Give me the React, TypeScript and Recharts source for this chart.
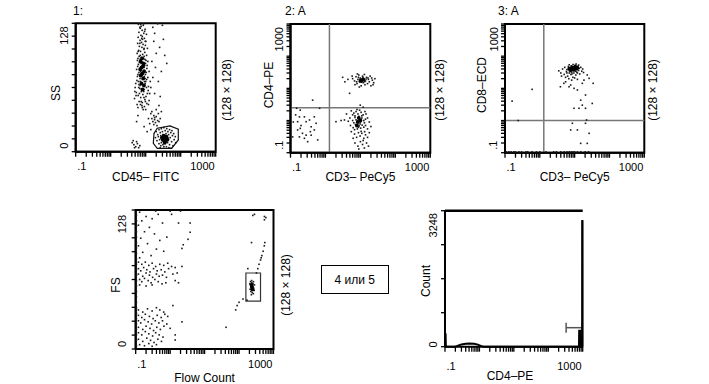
import React from 'react';
import { ScatterChart, Scatter, XAxis, YAxis, ReferenceLine, ReferenceArea } from 'recharts';

type Pt = [number, number];
const toObj = (a: Pt[]) => a.map(([x, y]) => ({ x, y }));

// ---------- ticks ----------
const logTicks = [0.1, 0.2, 0.3, 0.4, 0.5, 0.6, 0.7, 0.8, 0.9, 1, 2, 3, 4, 5, 6, 7, 8, 9, 10, 20, 30, 40, 50, 60, 70, 80, 90, 100, 200, 300, 400, 500, 600, 700, 800, 900, 1000];
const chTicks = [0, 12.8, 25.6, 38.4, 51.2, 64, 76.8, 89.6, 102.4, 115.2, 128];
const countTicks = [0, 812, 1624, 2436, 3248];
const logTickLabels = ['.1', '1000'];
const chTickLabels = ['0', '128'];
const countTickLabels = ['0', '3248'];

// ---------- panel 1: CD45 FITC vs SS ----------
const p1Upper: Pt[] = [
  [7.2, 127], [8.5, 126], [6.8, 124], [9.6, 122], [7.9, 121], [6.4, 119], [8.8, 118], [10.5, 117], [7.3, 116], [6.1, 114], [9.2, 113], [8.1, 112], [6.9, 111], [10.1, 110], [7.6, 109], [5.9, 108], [8.4, 107], [9.8, 106], [6.6, 105], [7.8, 104], [11.2, 103], [8.9, 102], [6.3, 101], [7.1, 100], [9.4, 99], [5.7, 98], [8.2, 97], [10.6, 96],
  [6.5, 95], [7.5, 94], [8.6, 93], [9.5, 92], [5.8, 91], [7.0, 90], [8.0, 89], [9.9, 88], [6.2, 87], [11.0, 86], [7.7, 85], [8.9, 84], [6.7, 83], [5.5, 82], [9.3, 81], [7.2, 80], [10.4, 79], [8.3, 78], [6.0, 77], [7.9, 76], [9.1, 75], [11.5, 74], [6.9, 73], [8.1, 72], [5.6, 71], [10.0, 70], [7.4, 69], [9.7, 68], [6.4, 67], [8.7, 66], [12.0, 65],
  [5.0, 64], [6.8, 63], [9.0, 62], [11.8, 61], [7.5, 60], [5.4, 59], [13.0, 58], [8.3, 57], [6.1, 56], [10.2, 55], [7.2, 54], [4.8, 53], [9.5, 52], [12.5, 51], [6.5, 50], [8.0, 49], [10.8, 48], [5.7, 47], [7.8, 46], [9.2, 45],
  [6.9, 92], [9.0, 86], [7.3, 78], [9.6, 73], [6.2, 70], [8.8, 60], [6.6, 58], [7.0, 123], [8.0, 115], [6.8, 108], [9.0, 103],
  [6.0, 93], [7.0, 96], [9.0, 95], [10.2, 91], [6.6, 89], [7.4, 88], [9.4, 86], [10.8, 83], [5.9, 85], [7.1, 82], [8.6, 81], [9.8, 77], [6.4, 79], [7.5, 75], [10.6, 72], [5.8, 75], [7.0, 70], [9.2, 70], [6.3, 64], [7.7, 62], [10.5, 64], [11.2, 58], [6.9, 66], [8.9, 54], [5.3, 56], [7.4, 50], [9.8, 50], [6.0, 44], [8.5, 42], [7.1, 47], [11.5, 90], [12.5, 80], [5.2, 68], [4.9, 60], [13.5, 70], [6.1, 100], [9.7, 110], [7.4, 125], [8.7, 127.5], [6.2, 127], [9.3, 120], [7.7, 113],
];
const p1UpperCore: Pt[] = [[7.2, 90], [8.6, 88], [7.6, 84], [9.0, 80], [7.2, 76], [8.5, 73], [7.6, 68], [8.9, 66], [7.9, 93], [8.0, 78], [7.0, 82], [8.3, 85], [8.1, 62]];
const p1Right: Pt[] = [[16, 124], [22, 127.5], [18, 118], [30, 126], [17, 110], [25, 104], [20, 98], [35, 96], [15, 90], [19, 84], [28, 80], [16, 74], [23, 70], [14, 64], [18, 58], [26, 55], [32, 112], [40, 88]];
const p1Mid: Pt[] = [[14, 38], [17, 36], [20, 35], [15, 33], [18, 32], [22, 31], [16, 30], [19, 29], [24, 30], [13, 28], [17, 27], [21, 26], [18, 34], [15, 40], [20, 42], [23, 38], [12, 33], [26, 33], [10, 42], [12, 47], [6, 36], [5.5, 30], [9, 25], [11, 20], [14, 22], [8, 44], [24, 46], [28, 40]];
const p1Lower: Pt[] = [
  [20, 20], [24, 22], [28, 23], [33, 24], [40, 23], [48, 22], [56, 21], [22, 17], [26, 19], [30, 20], [36, 21], [43, 20], [52, 19], [63, 18], [19, 14], [23, 15], [27, 16], [31, 17], [38, 18], [45, 17], [58, 16], [70, 15], [21, 11], [25, 12], [29, 13], [34, 14], [41, 15], [50, 14], [65, 12], [24, 8], [28, 9], [32, 10], [37, 11], [44, 12], [55, 10], [72, 9], [27, 6], [31, 7], [36, 8], [42, 9], [48, 7], [60, 6], [33, 5], [39, 5], [46, 4], [53, 3.5], [26, 4], [35, 12], [38, 13], [32, 15], [30, 11], [40, 10], [36, 16], [34, 9], [43, 14],
];
const p1LowerCore: Pt[] = [[34, 13], [37, 11], [31, 12], [39, 15], [35, 9], [42, 12], [29, 14], [33, 16]];
const p1BottomLeft: Pt[] = [[4.1, 9], [4.6, 7], [5.2, 5], [5.8, 8], [6.3, 4], [4.8, 4], [6.8, 6], [5.5, 10], [4.4, 11]];
const p1Gate: Pt[] = [[17.3, 18.4], [21.4, 23.4], [49.4, 25.7], [85.4, 22.4], [85.4, 11.7], [55.3, 3.4], [21.4, 3.4], [16.5, 8.4], [17.3, 18.4]];

// ---------- panel 2: CD3 PeCy5 vs CD4 PE ----------
const p2Quad = { x: 1.3, y: 2.5 };
const p2LowerLeft: Pt[] = [[0.14, 1.5], [0.18, 1.3], [0.16, 0.92], [0.19, 0.57], [0.28, 0.92], [0.35, 1.04], [0.39, 0.64], [0.22, 0.4], [0.25, 0.28], [0.39, 0.35], [0.48, 0.51], [0.54, 0.82], [0.6, 0.25], [0.31, 0.22], [0.16, 0.51], [0.15, 2.4], [0.19, 2.1], [0.43, 4.3], [0.68, 2.4], [0.115, 0.31], [0.48, 1.3], [0.25, 1.3], [0.28, 0.35], [0.18, 0.31], [0.37, 0.45], [0.12, 0.9], [0.2, 0.7]];
const p2Upper: Pt[] = [[6, 20], [6.8, 17], [7.5, 23], [8, 14], [8.5, 19], [9, 26], [9.5, 16], [10, 21], [10.5, 12], [11, 18], [11.5, 24], [12, 15], [12.5, 20], [13, 27], [13.5, 13], [14, 17], [15, 22], [16, 14], [17, 19], [18, 16], [19, 24], [20, 12], [22, 18], [24, 15], [26, 20], [7, 13], [8.2, 28], [9.3, 11], [10.8, 15.5], [11.8, 22], [12.8, 17.5], [10.2, 18.5], [11, 17], [9.8, 19.5], [14.5, 19.5], [13.2, 16], [16.5, 21], [21, 21], [23, 13], [5.8, 24], [7.8, 16], [8.8, 22]];
const p2UpperCore: Pt[] = [[11, 18], [10, 17], [12, 19]];
const p2UpperOut: Pt[] = [[4.9, 7], [3.1, 22], [4.4, 19], [3.6, 16]];
const p2Lower: Pt[] = [
  [5.5, 2.0], [6.5, 1.7], [7.5, 1.9], [8.5, 1.6], [9.5, 2.1], [10.5, 1.8], [12, 1.5], [13.5, 1.9], [7, 1.4], [9, 1.35], [11, 1.4], [6, 1.5], [8, 2.2], [14.5, 1.6],
  [5, 1.2], [6, 1.0], [7, 1.25], [8, 0.95], [9, 1.15], [10, 0.9], [11, 1.2], [12.5, 1.0], [14, 1.1], [16, 1.2], [4.5, 0.95], [6.5, 0.85], [7.5, 1.05], [8.5, 1.2], [9.5, 1.0], [10.5, 1.1], [13, 0.85], [18, 0.9], [7.8, 0.88],
  [5.2, 0.7], [6.2, 0.6], [7.2, 0.75], [8.2, 0.55], [9.2, 0.68], [10.2, 0.58], [11.2, 0.72], [12.5, 0.62], [14, 0.7], [16, 0.55], [20, 0.65], [6.8, 0.52], [9.8, 0.78], [8.8, 0.62], [7.6, 0.66],
  [5.5, 0.45], [6.8, 0.38], [7.8, 0.3], [8.8, 0.42], [9.8, 0.33], [11, 0.4], [12.5, 0.28], [14, 0.36], [16, 0.3], [18, 0.42], [6.2, 0.28], [10.5, 0.46], [13.2, 0.45],
  [7, 0.2], [8.5, 0.16], [10, 0.22], [11.5, 0.18], [13, 0.14], [15, 0.2], [9, 0.13], [17, 0.16], [12, 0.24],
];
const p2LowerCore: Pt[] = [[8.5, 0.9], [9, 1.2], [8, 0.7], [10, 1.0]];
const p2LowerOut: Pt[] = [[2.0, 0.92], [2.8, 1.0], [3.5, 1.04], [4, 1.6], [9.9, 3.0], [12, 2.6]];

// ---------- panel 3: CD3 PeCy5 vs CD8 ECD ----------
const p3Quad = { x: 1.3, y: 1.0 };
const p3Main: Pt[] = [[3.5, 35], [4, 30], [4.5, 40], [5, 27], [5.2, 45], [5.8, 33], [6, 38], [6.3, 24], [6.6, 48], [7, 30], [7.2, 35], [7.5, 44], [7.8, 27], [8, 50], [8.3, 32], [8.6, 37], [8.9, 22], [9.2, 47], [9.5, 30], [9.8, 40], [10.2, 52], [10.5, 34], [10.8, 26], [11.2, 45], [11.6, 38], [12, 30], [12.5, 49], [13, 36], [13.5, 42], [14, 28], [15, 45], [16, 34], [17, 40], [18, 31], [6.8, 20], [8.2, 18], [10, 21], [12, 19], [5.5, 22], [4.2, 24], [9, 55], [11, 57], [7, 54], [13, 53], [6, 30], [7.8, 33], [9.3, 35], [10.6, 39], [8.4, 28], [11.5, 32]];
const p3Core: Pt[] = [[8, 40], [9, 42], [10, 44], [7.5, 37], [9.5, 38], [8.5, 45], [11, 41], [7, 41], [10.5, 47], [12, 43]];
const p3Scatter: Pt[] = [[3.9, 11.2], [6.9, 11.2], [9.6, 10], [16.6, 14.3], [23, 26], [34, 14.3], [12, 8.9], [5.5, 16], [14.9, 4.3], [32, 3.4], [16.6, 3.0], [9.6, 2.4], [13.3, 2.4], [20.5, 2.4], [20.5, 6.2], [7.7, 12.7], [4.9, 14.3], [18.5, 18], [26, 20.5]];
const p3Below: Pt[] = [[8.6, 0.82], [7.7, 0.51], [12, 0.51], [20.5, 0.82], [26, 0.4], [14.9, 0.195], [23, 0.195], [22, 1.04]];
const p3Left: Pt[] = [[0.6, 9.3], [0.16, 4.0], [0.24, 1.0]];
const p3Bottom: Pt[] = [[0.11, 0.106], [0.13, 0.106], [0.15, 0.106], [0.18, 0.106], [0.2, 0.106], [0.25, 0.106], [0.3, 0.106], [0.4, 0.106], [0.45, 0.106], [0.6, 0.106], [0.8, 0.106], [1.0, 0.106], [1.5, 0.106], [2.5, 0.106], [3, 0.106], [4, 0.106], [5, 0.106], [6, 0.106], [7, 0.106], [8, 0.106], [9, 0.106], [10, 0.106], [12, 0.106], [15, 0.106], [20, 0.106], [25, 0.106]];

// ---------- panel 4: Flow Count vs FS ----------
const p4Edge: Pt[] = [[0.105, 3], [0.105, 8], [0.105, 13], [0.105, 18], [0.105, 23], [0.105, 28], [0.105, 33], [0.105, 38], [0.105, 43], [0.105, 48], [0.105, 53], [0.105, 58], [0.105, 63], [0.105, 68], [0.105, 73], [0.105, 78], [0.105, 83], [0.105, 88], [0.105, 93], [0.105, 98], [0.105, 103], [0.105, 108], [0.105, 113], [0.105, 118], [0.105, 123]];
const p4UpperBand: Pt[] = [
  [0.12, 80], [0.15, 78], [0.19, 80], [0.24, 77], [0.3, 79], [0.38, 76], [0.5, 78], [0.65, 77], [0.85, 79], [1.1, 76],
  [0.12, 74], [0.14, 72], [0.17, 75], [0.21, 73], [0.26, 71], [0.33, 74], [0.42, 72], [0.55, 73], [0.7, 71], [0.9, 74],
  [0.12, 69], [0.16, 67], [0.2, 70], [0.25, 68], [0.31, 66], [0.4, 69], [0.48, 67], [0.6, 68], [0.78, 66], [1.2, 69],
  [0.13, 64], [0.15, 62], [0.18, 65], [0.23, 63], [0.28, 61], [0.36, 64], [0.45, 62], [0.58, 60], [0.13, 59], [0.2, 58], [0.3, 59], [0.75, 61],
];
const p4LowerBand: Pt[] = [
  [0.12, 36], [0.16, 34], [0.22, 37], [0.3, 35], [0.4, 38], [0.5, 36], [0.65, 34],
  [0.12, 31], [0.15, 29], [0.19, 32], [0.25, 30], [0.32, 28], [0.42, 31], [0.55, 29], [0.7, 32], [0.85, 30],
  [0.12, 26], [0.14, 24], [0.18, 27], [0.23, 25], [0.29, 23], [0.37, 26], [0.47, 24], [0.6, 26], [0.8, 23],
  [0.12, 20], [0.16, 18], [0.2, 21], [0.26, 19], [0.33, 17], [0.41, 20], [0.52, 18], [0.66, 21], [1.0, 19],
  [0.12, 15], [0.15, 13], [0.19, 16], [0.24, 14], [0.31, 12], [0.38, 15], [0.48, 13], [0.62, 11],
  [0.12, 9], [0.16, 7], [0.21, 10], [0.27, 8], [0.34, 6], [0.44, 9], [0.56, 7],
  [0.13, 4], [0.18, 3], [0.24, 5], [0.3, 2.5], [0.4, 4],
];
const p4TopLeft: Pt[] = [[0.13, 126], [0.2, 122], [0.15, 118], [0.3, 120], [0.45, 124], [0.12, 114], [0.25, 112], [0.6, 116], [0.18, 108], [0.35, 106], [0.14, 102], [0.5, 100], [0.22, 97], [0.8, 103], [0.12, 95], [0.4, 92], [0.16, 89], [0.65, 90], [0.28, 86], [0.13, 84]];
const p4Misc: Pt[] = [[1.75, 116], [3.8, 116], [3.8, 107.5], [3.3, 101], [2.4, 96], [2.2, 92.6], [1.4, 63], [1.75, 61], [2.2, 25], [1.4, 13], [1.4, 8.3], [1, 127], [0.38, 127], [2, 127], [1.1, 124], [2.2, 76], [1.4, 75], [1.6, 70], [1.2, 40]];
const p4Gated: Pt[] = [[205, 60], [215, 62], [225, 58], [235, 61], [245, 57], [255, 60], [265, 56], [280, 59], [210, 55], [220, 53], [230, 56], [240, 52], [250, 54], [260, 51], [275, 54], [218, 59], [232, 63], [248, 58], [262, 62], [228, 50], [238, 55], [252, 57]];
const p4GatedCore: Pt[] = [[235, 57], [245, 55], [230, 59]];
const p4Trail: Pt[] = [[42, 20], [80, 36], [88, 40], [100, 43], [130, 46], [170, 45], [320, 70], [350, 74], [380, 78], [420, 82], [460, 86], [500, 90], [540, 95], [560, 98], [545, 119], [545, 122], [280, 124], [250, 123], [600, 121], [180, 74], [230, 98], [440, 84]];
const p4GateRect = { x1: 158, x2: 420, y1: 44, y2: 70 };

// ---------- panel 5: CD4 PE histogram ----------
const histo: Pt[] = [[0.1, 300], [0.104, 300], [0.106, 0], [0.2, 0], [0.25, 30], [0.3, 55], [0.4, 72], [0.5, 78], [0.7, 70], [0.9, 50], [1.1, 20], [1.3, 0], [780, 0], [790, 380], [840, 380], [850, 0], [965, 0], [970, 3000], [985, 3000], [990, 0]];
const histoPeak = { x1: 965, x2: 995, y: 3000 };
const histoGate = { x1: 330, x2: 966, y: 454, capLo: 334, capHi: 573 };

// ---------- layout ----------
const AX = 20;
const FONT = '"Liberation Sans", Arial, Helvetica, sans-serif';
type Box = { L: number; R: number; T: number; B: number };
type Reg = { x: number; y: number; w: number; h: number };
const B1: Box = { L: 75.7, R: 215.7, T: 23.3, B: 151.7 };
const B2: Box = { L: 290.5, R: 430.3, T: 24, B: 152.7 };
const B3: Box = { L: 505, R: 644.3, T: 24, B: 152.7 };
const B4: Box = { L: 135.7, R: 273.5, T: 210, B: 349 };
const B5: Box = { L: 445, R: 582.7, T: 210.7, B: 346.7 };
const R1: Reg = { x: 40, y: 0, w: 205, h: 192 };
const R2: Reg = { x: 255, y: 0, w: 205, h: 192 };
const R3: Reg = { x: 470, y: 0, w: 205, h: 192 };
const R4: Reg = { x: 95, y: 195, w: 210, h: 189 };
const R5: Reg = { x: 405, y: 195, w: 200, h: 189 };

const loc = (b: Box, r: Reg): Box => ({ L: b.L - r.x, R: b.R - r.x, T: b.T - r.y, B: b.B - r.y });
const marginOf = (b: Box, r: Reg) => {
  const l = loc(b, r);
  return { top: l.T, left: l.L - AX, right: r.w - l.R, bottom: r.h - l.B - AX };
};
const regStyle = (r: Reg): React.CSSProperties => ({ position: 'absolute', left: r.x, top: r.y, width: r.w, height: r.h });
const axisLineStyle = { stroke: '#000', strokeWidth: 2 };
const tickLineStyle = { stroke: '#000', strokeWidth: 1.3 };

const xTick = (pb: Box, r: Reg, labels: string[], ticks: number[], baseY: number) => (props: any) => {
  const b = loc(pb, r);
  const v = props.payload.value;
  const by = baseY - r.y;
  if (v === ticks[0]) return <text x={b.L + 1.5} y={by} fontSize={11} fontFamily={FONT} fill="#000" textAnchor="start">{labels[0]}</text>;
  if (v === ticks[ticks.length - 1]) return <text x={b.R - 1} y={by} fontSize={11} fontFamily={FONT} fill="#000" textAnchor="end">{labels[1]}</text>;
  return <g />;
};

const yTick = (pb: Box, r: Reg, labels: string[], ticks: number[], labXp: number, botYp: number, topYp: number) => (props: any) => {
  const v = props.payload.value;
  const labX = labXp - r.x;
  const botY = botYp - r.y;
  const topY = topYp - r.y;
  if (v === ticks[0]) return <text x={labX} y={botY} transform={`rotate(-90 ${labX} ${botY})`} fontSize={11} fontFamily={FONT} fill="#000" textAnchor="start">{labels[0]}</text>;
  if (v === ticks[ticks.length - 1]) return <text x={labX} y={topY} transform={`rotate(-90 ${labX} ${topY})`} fontSize={11} fontFamily={FONT} fill="#000" textAnchor="end">{labels[1]}</text>;
  return <g />;
};

const dotSmall = (p: any) => <rect x={p.cx - 0.8} y={p.cy - 0.8} width={1.6} height={1.6} fill="#1a1a1a" />;
const dotTiny = (p: any) => <rect x={p.cx - 0.3} y={p.cy - 0.3} width={0.6} height={0.6} fill="#000" />;
const dotCore = (p: any) => <circle cx={p.cx} cy={p.cy} r={1.9} fill="#000" />;

const S = (data: Pt[], shape: any, key: string) => (
  <Scatter key={key} data={toObj(data)} shape={shape} isAnimationActive={false} />
);

type TextSpec = { t: string; x: number; y: number; rot?: boolean; anchor?: 'start' | 'middle' | 'end' };
const Texts = ({ r, items }: { r: Reg; items: TextSpec[] }) => (
  <g fontFamily={FONT} fontSize={12} fill="#000">
    {items.map((it, i) => {
      const x = it.x - r.x;
      const y = it.y - r.y;
      return (
        <text key={i} x={x} y={y} textAnchor={it.anchor || 'middle'} transform={it.rot ? `rotate(-90 ${x} ${y})` : undefined}>{it.t}</text>
      );
    })}
  </g>
);

const logXAxis = (b: Box, r: Reg, baseY: number) => (
  <XAxis dataKey="x" type="number" scale="log" domain={[0.1, 1000]} ticks={logTicks} interval={0} height={AX} axisLine={axisLineStyle} tickLine={tickLineStyle} tickSize={5} tick={xTick(b, r, logTickLabels, logTicks, baseY)} />
);

export default function App() {
  return (
    <div style={{ position: 'absolute', left: 0, top: 0, width: 709, height: 384, background: '#fff', fontFamily: FONT }}>
      {/* Panel 1 */}
      <div style={regStyle(R1)}>
        <ScatterChart width={R1.w} height={R1.h} margin={marginOf(B1, R1)}>
          {logXAxis(B1, R1, 170)}
          <YAxis dataKey="y" type="number" domain={[0, 128]} ticks={chTicks} interval={0} width={AX} axisLine={axisLineStyle} tickLine={tickLineStyle} tickSize={4} tick={yTick(B1, R1, chTickLabels, chTicks, 68, 148.7, 26.3)} />
          <ReferenceArea x1={0.1} x2={1000} y1={0} y2={128} fill="none" stroke="#000" strokeWidth={2} />
          {S(p1Upper, dotSmall, 'a')}
          {S(p1UpperCore, dotCore, 'b')}
          {S(p1Right, dotSmall, 'c')}
          {S(p1Mid, dotSmall, 'd')}
          {S(p1Lower, dotSmall, 'e')}
          {S(p1LowerCore, dotCore, 'f')}
          {S(p1BottomLeft, dotSmall, 'g')}
          <Scatter data={toObj(p1Gate)} shape={dotTiny} line={{ stroke: '#111', strokeWidth: 1.2 }} lineType="joint" isAnimationActive={false} />
          <Texts r={R1} items={[
            { t: '1:', x: 73, y: 15, anchor: 'start' },
            { t: 'SS', x: 59.5, y: 93, rot: true },
            { t: 'CD45– FITC', x: 145.7, y: 180.5 },
            { t: '(128 × 128)', x: 230.5, y: 90, rot: true },
          ]} />
        </ScatterChart>
      </div>

      {/* Panel 2 */}
      <div style={regStyle(R2)}>
        <ScatterChart width={R2.w} height={R2.h} margin={marginOf(B2, R2)}>
          {logXAxis(B2, R2, 170.5)}
          <YAxis dataKey="y" type="number" scale="log" domain={[0.1, 1000]} ticks={logTicks} interval={0} width={AX} axisLine={axisLineStyle} tickLine={tickLineStyle} tickSize={4} tick={yTick(B2, R2, logTickLabels, logTicks, 283, 149.7, 27)} />
          <ReferenceArea x1={0.1} x2={1000} y1={0.1} y2={1000} fill="none" stroke="#000" strokeWidth={2} />
          <ReferenceLine x={p2Quad.x} stroke="#777" strokeWidth={1.5} />
          <ReferenceLine y={p2Quad.y} stroke="#777" strokeWidth={1.5} />
          {S(p2LowerLeft, dotSmall, 'a')}
          {S(p2Upper, dotSmall, 'b')}
          {S(p2UpperCore, dotCore, 'c')}
          {S(p2UpperOut, dotSmall, 'd')}
          {S(p2Lower, dotSmall, 'e')}
          {S(p2LowerCore, dotCore, 'f')}
          {S(p2LowerOut, dotSmall, 'g')}
          <Texts r={R2} items={[
            { t: '2: A', x: 285, y: 15, anchor: 'start' },
            { t: 'CD4–PE', x: 273.3, y: 85, rot: true },
            { t: 'CD3– PeCy5', x: 360.4, y: 180.5 },
            { t: '(128 × 128)', x: 444, y: 90, rot: true },
          ]} />
        </ScatterChart>
      </div>

      {/* Panel 3 */}
      <div style={regStyle(R3)}>
        <ScatterChart width={R3.w} height={R3.h} margin={marginOf(B3, R3)}>
          {logXAxis(B3, R3, 170.5)}
          <YAxis dataKey="y" type="number" scale="log" domain={[0.1, 1000]} ticks={logTicks} interval={0} width={AX} axisLine={axisLineStyle} tickLine={tickLineStyle} tickSize={4} tick={yTick(B3, R3, logTickLabels, logTicks, 497.5, 149.7, 27)} />
          <ReferenceArea x1={0.1} x2={1000} y1={0.1} y2={1000} fill="none" stroke="#000" strokeWidth={2} />
          <ReferenceLine x={p3Quad.x} stroke="#777" strokeWidth={1.5} />
          <ReferenceLine y={p3Quad.y} stroke="#777" strokeWidth={1.5} />
          {S(p3Main, dotSmall, 'a')}
          {S(p3Core, dotCore, 'b')}
          {S(p3Scatter, dotSmall, 'c')}
          {S(p3Below, dotSmall, 'd')}
          {S(p3Left, dotSmall, 'e')}
          {S(p3Bottom, dotSmall, 'f')}
          <Texts r={R3} items={[
            { t: '3: A', x: 498, y: 15, anchor: 'start' },
            { t: 'CD8–ECD', x: 486, y: 85, rot: true },
            { t: 'CD3– PeCy5', x: 574.7, y: 180.5 },
            { t: '(128 × 128)', x: 657, y: 90, rot: true },
          ]} />
        </ScatterChart>
      </div>

      {/* Panel 4 */}
      <div style={regStyle(R4)}>
        <ScatterChart width={R4.w} height={R4.h} margin={marginOf(B4, R4)}>
          {logXAxis(B4, R4, 368)}
          <YAxis dataKey="y" type="number" domain={[0, 128]} ticks={chTicks} interval={0} width={AX} axisLine={axisLineStyle} tickLine={tickLineStyle} tickSize={4} tick={yTick(B4, R4, chTickLabels, chTicks, 126, 347, 215)} />
          <ReferenceArea x1={0.1} x2={1000} y1={0} y2={128} fill="none" stroke="#000" strokeWidth={2} />
          <ReferenceArea x1={p4GateRect.x1} x2={p4GateRect.x2} y1={p4GateRect.y1} y2={p4GateRect.y2} fill="none" stroke="#333" strokeWidth={1.2} />
          {S(p4Edge, dotSmall, 'a')}
          {S(p4UpperBand, dotSmall, 'b')}
          {S(p4LowerBand, dotSmall, 'c')}
          {S(p4TopLeft, dotSmall, 'd')}
          {S(p4Misc, dotSmall, 'e')}
          {S(p4Gated, dotSmall, 'f')}
          {S(p4GatedCore, dotCore, 'g')}
          {S(p4Trail, dotSmall, 'h')}
          <Texts r={R4} items={[
            { t: 'FS', x: 119.5, y: 285, rot: true },
            { t: 'Flow Count', x: 204.6, y: 381.5 },
            { t: '(128 × 128)', x: 290, y: 285, rot: true },
          ]} />
        </ScatterChart>
      </div>

      {/* Panel 5 */}
      <div style={regStyle(R5)}>
        <ScatterChart width={R5.w} height={R5.h} margin={marginOf(B5, R5)}>
          <XAxis dataKey="x" type="number" scale="log" domain={[0.1, 1000]} ticks={logTicks} interval={0} height={AX} axisLine={axisLineStyle} tickLine={tickLineStyle} tickSize={5} tick={xTick(B5, R5, logTickLabels, logTicks, 370)} />
          <YAxis dataKey="y" type="number" domain={[0, 3248]} ticks={countTicks} interval={0} width={AX} axisLine={axisLineStyle} tickLine={tickLineStyle} tickSize={4} tick={yTick(B5, R5, countTickLabels, countTicks, 436.5, 347.5, 213)} />
          <ReferenceLine y={3248} stroke="#000" strokeWidth={2.5} />
          <ReferenceArea x1={histoPeak.x1} x2={histoPeak.x2} y1={0} y2={histoPeak.y} fill="#000" stroke="#000" strokeWidth={1} ifOverflow="visible" />
          <ReferenceLine segment={[{ x: histoGate.x1, y: histoGate.y }, { x: histoGate.x2, y: histoGate.y }]} stroke="#555" strokeWidth={1.5} />
          <ReferenceLine segment={[{ x: histoGate.x1, y: histoGate.capLo }, { x: histoGate.x1, y: histoGate.capHi }]} stroke="#555" strokeWidth={1.5} />
          <ReferenceLine segment={[{ x: histoGate.x2, y: histoGate.capLo }, { x: histoGate.x2, y: histoGate.capHi }]} stroke="#555" strokeWidth={1.5} />
          <Scatter data={toObj(histo)} shape={dotTiny} line={{ stroke: '#000', strokeWidth: 2 }} lineType="joint" isAnimationActive={false} />
          <Texts r={R5} items={[
            { t: 'Count', x: 430, y: 281, rot: true },
            { t: 'CD4–PE', x: 510, y: 380 },
          ]} />
        </ScatterChart>
      </div>

      <div style={{ position: 'absolute', left: 320.7, top: 265, width: 68, height: 29.3, boxSizing: 'border-box', border: '1.5px solid #000', display: 'flex', alignItems: 'center', justifyContent: 'center', fontSize: 12, fontFamily: FONT, color: '#000' }}>
        4 или 5
      </div>
    </div>
  );
}
